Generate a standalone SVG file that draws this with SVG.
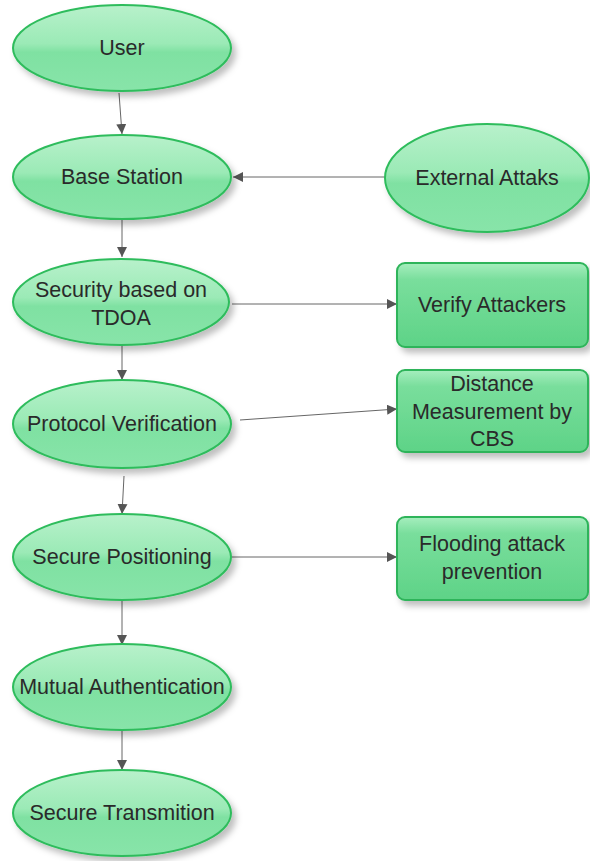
<svg xmlns="http://www.w3.org/2000/svg" width="590" height="861" viewBox="0 0 590 861">
<defs>
<linearGradient id="gE" x1="0" y1="0" x2="0" y2="1">
<stop offset="0" stop-color="#b8f1cb"/>
<stop offset="0.45" stop-color="#9beab6"/>
<stop offset="0.55" stop-color="#7fe1a2"/>
<stop offset="1" stop-color="#88e4a9"/>
</linearGradient>
<linearGradient id="gR" x1="0" y1="0" x2="0" y2="1">
<stop offset="0" stop-color="#a6eebe"/>
<stop offset="0.2" stop-color="#79de9c"/>
<stop offset="1" stop-color="#5ed387"/>
</linearGradient>
<filter id="sh" x="-20%" y="-20%" width="150%" height="160%">
<feDropShadow dx="4" dy="5" stdDeviation="3" flood-color="#000" flood-opacity="0.25"/>
</filter>
<marker id="ah" viewBox="0 0 10 10" refX="10" refY="5" markerWidth="10" markerHeight="10" markerUnits="userSpaceOnUse" orient="auto">
<path d="M0,0 L10,5 L0,10 z" fill="#555"/>
</marker>
<style>
.el{fill:url(#gE);stroke:#2ebc5c;stroke-width:2;filter:url(#sh)}
.rc{fill:url(#gR);stroke:#2eb45a;stroke-width:2;filter:url(#sh)}
text{font-family:"Liberation Sans",Arial,sans-serif;font-size:21.5px;fill:#2a2a2a;text-anchor:middle;dominant-baseline:central}
.cn line{stroke:#666;stroke-width:1;marker-end:url(#ah)}
</style>
</defs>
<rect width="590" height="861" fill="#fff"/>
<g class="cn" id="connectors">
<line x1="119" y1="93" x2="122" y2="134"/>
<line x1="122" y1="220" x2="122" y2="257"/>
<line x1="122" y1="346" x2="122" y2="380"/>
<line x1="124" y1="476" x2="122" y2="514"/>
<line x1="122" y1="601" x2="122" y2="645"/>
<line x1="122" y1="731" x2="122" y2="770"/>
<line x1="385" y1="177" x2="233" y2="177"/>
<line x1="232" y1="304" x2="397" y2="304"/>
<line x1="240" y1="420" x2="397" y2="409"/>
<line x1="232" y1="557" x2="397" y2="557"/>
</g>
<g id="user"><ellipse class="el" cx="122" cy="48" rx="109" ry="43"/><text x="122" y="48">User</text></g>
<g id="base"><ellipse class="el" cx="122" cy="177" rx="109" ry="42"/><text x="122" y="177">Base Station</text></g>
<g id="external"><ellipse class="el" cx="487" cy="178" rx="102" ry="54"/><text x="487" y="178">External Attaks</text></g>
<g id="security"><ellipse class="el" cx="121" cy="302" rx="108" ry="43"/><text x="121" y="290">Security based on</text><text x="121" y="318">TDOA</text></g>
<g id="protocol"><ellipse class="el" cx="122" cy="424" rx="109" ry="44"/><text x="122" y="424">Protocol Verification</text></g>
<g id="positioning"><ellipse class="el" cx="122" cy="557" rx="109" ry="43"/><text x="122" y="557">Secure Positioning</text></g>
<g id="mutual"><ellipse class="el" cx="122" cy="687" rx="109" ry="43"/><text x="122" y="687">Mutual Authentication</text></g>
<g id="transmition"><ellipse class="el" cx="122" cy="813" rx="109" ry="43"/><text x="122" y="813">Secure Transmition</text></g>
<g id="verify"><rect class="rc" x="397" y="263" width="191" height="84" rx="8"/><text x="492" y="305">Verify Attackers</text></g>
<g id="distance"><rect class="rc" x="397" y="370" width="191" height="82" rx="8"/><text x="492" y="384">Distance</text><text x="492" y="412">Measurement by</text><text x="492" y="439">CBS</text></g>
<g id="flooding"><rect class="rc" x="397" y="517" width="191" height="83" rx="8"/><text x="492" y="544">Flooding attack</text><text x="492" y="572">prevention</text></g>
</svg>
